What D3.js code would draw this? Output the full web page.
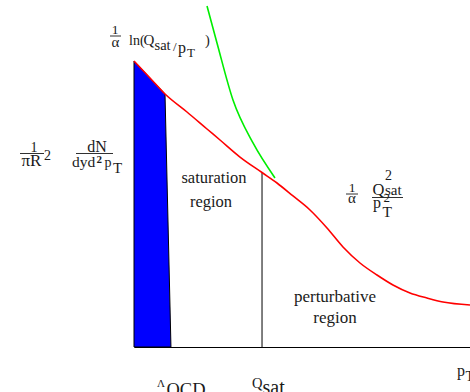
<!DOCTYPE html>
<html>
<head>
<meta charset="utf-8">
<script src="https://cdn.jsdelivr.net/npm/d3@7"></script>
<style>
body { margin: 0; background: #fff; }
text { font-family: "Liberation Serif", "Times New Roman", serif; fill: #1a1a1a; }
</style>
</head>
<body>
<svg width="470" height="392"></svg>
<script>
// spectrum (red), arbitrary units
const pt = [0, 0.476, 0.923, 1.577, 2.173, 2.560, 3.155, 3.810, 4.256, 4.732, 5.238, 5.744, 6.220, 6.726, 7.232, 7.708, 8.214, 8.720, 9.196, 10];
const spectrum = [10, 9.406, 8.846, 8.217, 7.622, 7.238, 6.643, 6.101, 5.734, 5.280, 4.790, 4.161, 3.497, 2.937, 2.517, 2.168, 1.888, 1.713, 1.573, 1.469];
// green curve
const greenPt = [2.173, 2.470, 2.946, 3.542, 4.196];
const greenY = [11.923, 10.629, 8.636, 7.133, 5.909];
// non-perturbative region (blue)
const bluePt = [0, 0, 0.476, 0.923, 1.10];
const blueY = [0, 10, 9.406, 8.846, 0];
const lambdaQCD = 1.10;
const qsat = 3.81;
const ptLabel = 9.61;

const svg = d3.select('svg');
const x = d3.scaleLinear().domain([0, 10]).range([134, 470]);
const y = d3.scaleLinear().domain([0, 10]).range([347, 61]);

const line = d3.line().x(d => x(d[0])).y(d => y(d[1]));
const smooth = d3.line().x(d => x(d[0])).y(d => y(d[1])).curve(d3.curveMonotoneX);

// blue area
svg.append('path')
    .datum(bluePt.map((v, i) => [v, blueY[i]]))
    .attr('d', d => line(d) + 'Z')
    .style('fill', '#0000ff')
    .style('stroke', '#000')
    .style('stroke-width', 1);

// bottom axis
svg.append('g')
    .attr('transform', 'translate(0,' + y(0) + ')')
    .call(d3.axisBottom(x).tickValues([]).tickSizeOuter(0))
    .select('.domain').style('stroke-width', 1.2);

// Q_sat divider
let qIdx = pt.indexOf(qsat);
svg.append('line')
    .attr('x1', x(qsat)).attr('x2', x(qsat))
    .attr('y1', y(0)).attr('y2', y(spectrum[qIdx]))
    .style('stroke', '#000').style('stroke-width', 1);

// green curve
svg.append('path')
    .datum(greenPt.map((v, i) => [v, greenY[i]]))
    .attr('d', smooth)
    .style('fill', 'none')
    .style('stroke', '#00ee00')
    .style('stroke-width', 1.6);

// red curve
svg.append('path')
    .datum(pt.map((v, i) => [v, spectrum[i]]))
    .attr('d', smooth)
    .style('fill', 'none')
    .style('stroke', '#ff0000')
    .style('stroke-width', 1.6);

// helpers for the formula-ish labels
let txt = (s, px, py, size, anchor) => svg.append('text')
    .attr('x', px).attr('y', py)
    .style('font-family', '"Liberation Serif", "Times New Roman", serif')
    .style('font-size', size + 'px')
    .style('text-anchor', anchor || 'start')
    .text(s);
let bar = (x1, x2, py) => svg.append('line')
    .attr('x1', x1).attr('x2', x2).attr('y1', py).attr('y2', py)
    .style('stroke', '#1a1a1a').style('stroke-width', 0.9);

// x tick labels
txt('Λ', x(lambdaQCD) - 14, 387, 11);
txt('QCD', x(lambdaQCD) - 4.5, 396, 18.5);
txt('Q', x(qsat) - 10, 388, 14.5);
txt('sat', x(qsat) + 0.5, 394, 20);
txt('p', x(ptLabel), 376, 16);
txt('T', x(ptLabel) + 8.5, 381, 14);

// top label: 1/α ln(Qsat/pT)
txt('1', 115, 34, 13.5, 'middle');
bar(110, 121, 36);
txt('α', 115.5, 47, 15, 'middle');
txt('ln(', 129, 45, 14);
txt('Q', 143.5, 45, 15);
txt('sat', 154.5, 50, 14.5);
txt('/', 173, 51, 13);
txt('p', 178, 53, 16);
txt('T', 187, 57, 13);
txt(')', 205, 45, 14.5);

// y label: 1/πR² dN/dyd²pT
txt('1', 34, 152, 14, 'middle');
bar(20, 44, 153.5);
txt('πR', 31.5, 166, 17, 'middle');
txt('2', 44, 160, 14);
txt('dN', 97, 152, 16, 'middle');
bar(76, 113, 153.5);
txt('dyd', 72, 167, 15.5);
txt('2', 96.5, 162.5, 11).style('font-weight', 'bold');
txt('p', 104.5, 167, 14);
txt('T', 113, 173, 15);

// region labels
txt('saturation', 214, 183, 16.5, 'middle');
txt('region', 211, 207, 16.5, 'middle');
txt('perturbative', 335, 302, 17, 'middle');
txt('region', 335, 323, 17, 'middle');

// 1/α Qsat²/pT²
txt('1', 352, 192, 13.5, 'middle');
bar(346, 358, 194);
txt('α', 352, 203, 15, 'middle');
txt('Q', 372.5, 195, 16.5);
txt('2', 385, 180, 14);
txt('sat', 385, 195, 15);
bar(372, 403, 197.5);
txt('p', 373, 208, 16);
txt('2', 383.5, 202, 13);
txt('T', 382.5, 217, 15.5);
</script>
</body>
</html>
